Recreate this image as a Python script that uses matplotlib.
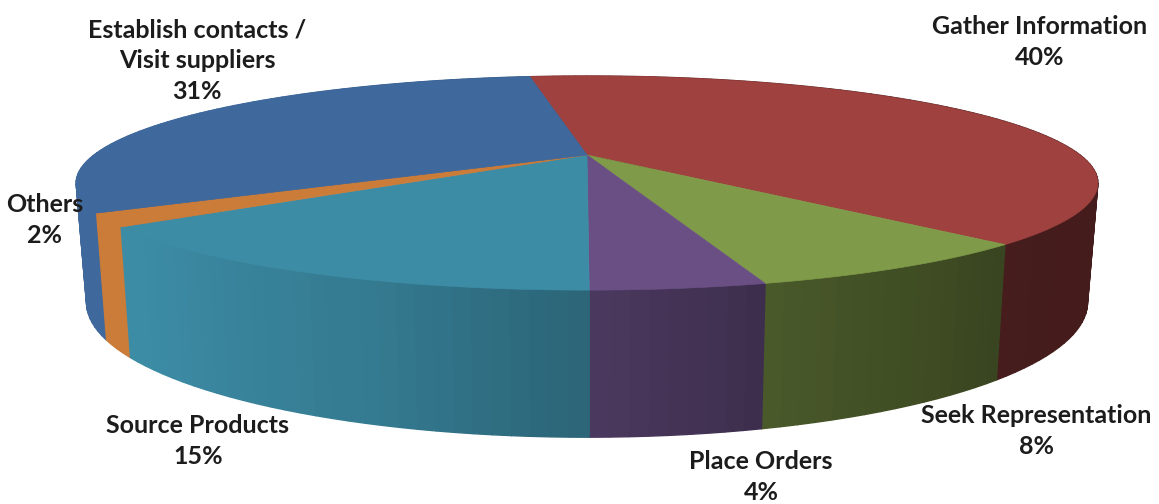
import numpy as np
import matplotlib
matplotlib.use("Agg")
import matplotlib.pyplot as plt

categories = ["Gather Information", "Seek Representation", "Place Orders",
              "Source Products", "Others", "Establish contacts /\nVisit suppliers"]
values = [40.3, 7.68, 4.30, 14.67, 1.95, 31.1]
top_colors = ["#9e413f", "#7f9a48", "#6a4f85", "#3c8ca5", "#cc7c39", "#3f689c"]

# Layout (pixels)
W, H = 1159, 504
CX = 587
K = 0.262
A_TOP, B_TOP, CY_TOP = 493.0, 99.7, 155.0
A_BOT, B_BOT, CY_BOT = 483.0, 125.6, 267.0
START_DEG = -8.4
label_pos = [(1040, 42), (1036, 431), (761, 477), (198, 441), (45, 220), (197, 61)]


def project(theta, a, b, cy):
    u, v = np.sin(theta), np.cos(theta)
    d = 1 + K * v
    return CX + a * u / d, cy - b * v / d


def shade(color, theta):
    u = np.sin(theta)
    f = np.interp(u, [-1, -0.75, -0.3, 0, 0.27, 0.7, 1], [1.0, 1.0, 0.86, 0.72, 0.58, 0.44, 0.43])
    return tuple(c * f for c in matplotlib.colors.to_rgb(color))


fig = plt.figure(figsize=(W / 100, H / 100), dpi=100)
ax = fig.add_axes([0, 0, 1, 1])
ax.set_xlim(0, W)
ax.set_ylim(H, 0)
ax.axis("off")

fractions = np.array(values, dtype=float) / sum(values)
edges = np.radians(START_DEG) + 2 * np.pi * np.concatenate([[0], np.cumsum(fractions)])

# Side wall, back to front
quads = []
for i, col in enumerate(top_colors):
    n = max(int(np.degrees(edges[i + 1] - edges[i]) * 0.6), 2)
    t = np.linspace(edges[i], edges[i + 1], n + 1)
    for t0, t1 in zip(t[:-1], t[1:]):
        quads.append(((t0 + t1) / 2, t0, t1, col))
quads.sort(key=lambda q: -np.cos(q[0]))
for tm, t0, t1, col in quads:
    tt = np.linspace(t0, t1, 8)
    xt, yt = project(tt, A_TOP, B_TOP, CY_TOP)
    xb, yb = project(tt[::-1], A_BOT, B_BOT, CY_BOT)
    c = shade(col, tm)
    ax.fill(np.r_[xt, xb], np.r_[yt, yb], facecolor=c, edgecolor=c, lw=1.0, zorder=2)

# Top face
for i, col in enumerate(top_colors):
    t = np.linspace(edges[i], edges[i + 1], 200)
    x, y = project(t, A_TOP, B_TOP, CY_TOP)
    ax.fill(np.r_[CX, x], np.r_[CY_TOP, y], facecolor=col, edgecolor=col, lw=0.5, zorder=3)

# Labels
for name, val, (lx, ly) in zip(categories, values, label_pos):
    ax.text(lx, ly, f"{name}\n{val:.0f}%", ha="center", va="center", family="Lato",
            fontweight="bold", fontsize=18, color="#1c1c1c", linespacing=1.42, zorder=5)

fig.savefig("out.png", dpi=100)
